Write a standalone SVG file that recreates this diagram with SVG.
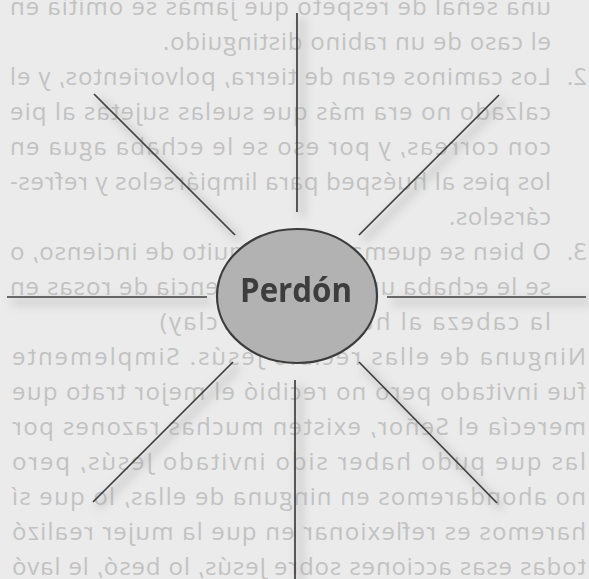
<svg xmlns="http://www.w3.org/2000/svg" width="589" height="579" viewBox="0 0 589 579">
  <style>
    .bg-text { font-family: "Open Sans", "Noto Sans", "Liberation Sans", sans-serif; font-size: 24px; fill: #c2c2c2; }
    .ray { stroke: #3e3e3e; stroke-width: 1.7; fill: none; stroke-linecap: butt; }
    .ray-shadow { stroke: #9a9a9a; stroke-width: 7; fill: none; opacity: 0.35; }
    .node-shape { fill: #b2b2b2; stroke: #3c3c3c; stroke-width: 2.2; }
    .node-label { font-family: "Open Sans", "Noto Sans", "Liberation Sans", sans-serif; font-weight: 700; font-size: 34px; fill: #3d3d3d; }
  </style>
  <defs>
    <filter id="smudge" x="-20%" y="-20%" width="140%" height="140%">
      <feGaussianBlur stdDeviation="4"/>
    </filter>
  </defs>

  <rect x="0" y="0" width="589" height="579" fill="#ebebeb"/>

  <!-- bleed-through page text (mirrored, as printed in the scan) -->
  <g id="page-text" transform="matrix(-1 0 0 1 589 0)">
    <text class="bg-text" x="38" y="15" textLength="541" lengthAdjust="spacing">una señal de respeto que jamás se omitía en</text>
    <text class="bg-text" x="38" y="50" textLength="388" lengthAdjust="spacing">el caso de un rabino distinguido.</text>
    <text class="bg-text" x="2" y="85">2.</text>
    <text class="bg-text" x="38" y="85" textLength="541" lengthAdjust="spacing">Los caminos eran de tierra, polvorientos, y el</text>
    <text class="bg-text" x="38" y="120" textLength="541" lengthAdjust="spacing">calzado no era más que suelas sujetas al pie</text>
    <text class="bg-text" x="38" y="155" textLength="541" lengthAdjust="spacing">con correas, y por eso se le echaba agua en</text>
    <text class="bg-text" x="38" y="190" textLength="541" lengthAdjust="spacing">los pies al huésped para limpiárselos y refres-</text>
    <text class="bg-text" x="38" y="225" textLength="102" lengthAdjust="spacing">cárselos.</text>
    <text class="bg-text" x="2" y="260">3.</text>
    <text class="bg-text" x="38" y="260" textLength="541" lengthAdjust="spacing">O bien se quemaba un poquito de incienso, o</text>
    <text class="bg-text" x="38" y="295" textLength="541" lengthAdjust="spacing">se le echaba una gota de esencia de rosas en</text>
    <text class="bg-text" x="38" y="330" textLength="391" lengthAdjust="spacing">la cabeza al huésped (Barclay)</text>
    <text class="bg-text" x="3" y="365" textLength="574" lengthAdjust="spacing">Ninguna de ellas recibió Jesús. Simplemente</text>
    <text class="bg-text" x="3" y="400" textLength="574" lengthAdjust="spacing">fue invitado pero no recibió el mejor trato que</text>
    <text class="bg-text" x="3" y="435" textLength="574" lengthAdjust="spacing">merecía el Señor, existen muchas razones por</text>
    <text class="bg-text" x="3" y="470" textLength="574" lengthAdjust="spacing">las que pudo haber sido invitado Jesús, pero</text>
    <text class="bg-text" x="3" y="505" textLength="574" lengthAdjust="spacing">no ahondaremos en ninguna de ellas, lo que sí</text>
    <text class="bg-text" x="3" y="540" textLength="574" lengthAdjust="spacing">haremos es reflexionar en que la mujer realizó</text>
    <text class="bg-text" x="3" y="575" textLength="574" lengthAdjust="spacing">todas esas acciones sobre Jesús, lo besó, le lavó</text>
  </g>

  <!-- connectors -->
  <g id="connectors">
    <g id="connector-shadows" filter="url(#smudge)" transform="translate(5 5)">
      <line class="ray-shadow" x1="297" y1="13" x2="297" y2="212"/>
      <line class="ray-shadow" x1="94" y1="94" x2="235" y2="235"/>
      <line class="ray-shadow" x1="499" y1="95" x2="359" y2="235"/>
      <line class="ray-shadow" x1="7" y1="297" x2="207" y2="297"/>
      <line class="ray-shadow" x1="387" y1="297" x2="586" y2="297"/>
      <line class="ray-shadow" x1="233" y1="362" x2="93" y2="502"/>
      <line class="ray-shadow" x1="295" y1="380" x2="295" y2="579"/>
      <line class="ray-shadow" x1="359" y1="362" x2="497" y2="503"/>
    </g>
    <line class="ray" x1="297" y1="13" x2="297" y2="212"/>
    <line class="ray" x1="94" y1="94" x2="235" y2="235"/>
    <line class="ray" x1="499" y1="95" x2="359" y2="235"/>
    <line class="ray" x1="7" y1="297" x2="207" y2="297"/>
    <line class="ray" x1="387" y1="297" x2="586" y2="297"/>
    <line class="ray" x1="233" y1="362" x2="93" y2="502"/>
    <line class="ray" x1="295" y1="380" x2="295" y2="579"/>
    <line class="ray" x1="359" y1="362" x2="497" y2="503"/>
  </g>

  <!-- central node -->
  <g id="perdon">
    <ellipse class="node-shape" cx="297" cy="296" rx="80" ry="67"/>
    <text class="node-label" x="296" y="302" text-anchor="middle" textLength="112" lengthAdjust="spacingAndGlyphs">Perdón</text>
  </g>
</svg>
